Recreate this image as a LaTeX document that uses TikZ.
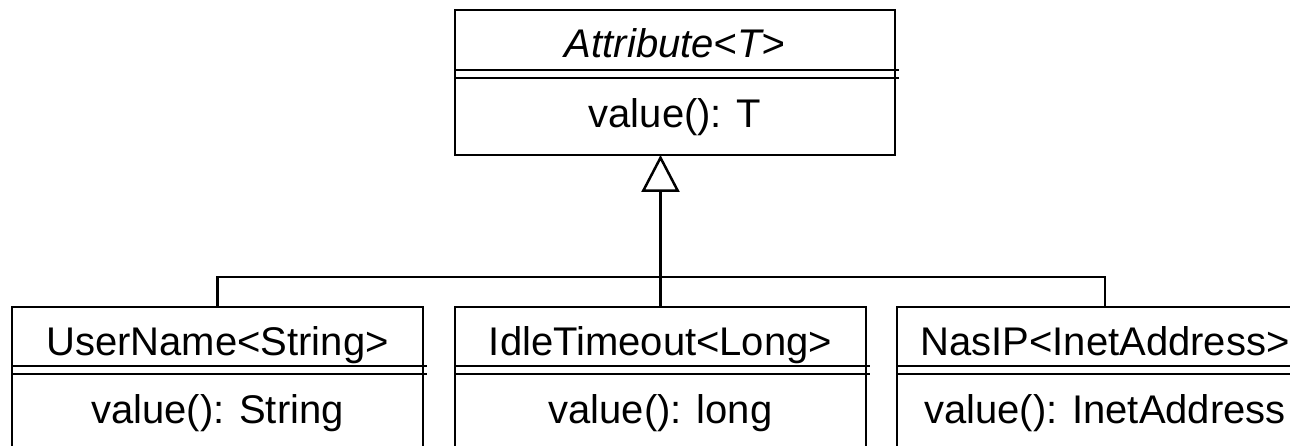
\documentclass[tikz,border=0pt]{standalone}
\usepackage{fontspec}
\setmainfont{Liberation Sans}
\usetikzlibrary{arrows.meta}
\tikzset{
  classbox/.style={draw, rectangle, line width=2.5pt, inner sep=0pt, outer sep=0pt},
  classtext/.style={anchor=base, inner sep=0pt, font=\fontsize{40}{48}\selectfont},
  sep/.style={line width=2.5pt},
  gen/.style={line width=2.5pt},
  genhead/.style={-{Triangle[open, length=37pt, width=38pt, line width=2.5pt]}}
}
\begin{document}
\begin{tikzpicture}[x=1pt, y=-1pt]
  \useasboundingbox (0,0) rectangle (1290,446);
  \clip (0,0) rectangle (1290,446);

  % superclass
  \node[classbox, minimum width=440pt, minimum height=145pt] (attr) at (675,82.5) {};
  \path (attr.north) ++(0,48) node[classtext] (attrname) {\itshape Attribute<T>};
  \path (attr.north) ++(0,118) node[classtext] (attrop) {value(): T};
  \draw[sep] (attr.north west) ++(0,60) -- ++(444,0);
  \draw[sep] (attr.north west) ++(0,68) -- ++(444,0);

  % subclasses
  \node[classbox, minimum width=411pt, minimum height=153pt] (user) at (217.5,383.5) {};
  \path (user.north) ++(0,48) node[classtext] (username) {UserName<String>};
  \path (user.north) ++(0,116) node[classtext] (userop) {value(): String};
  \draw[sep] (user.north west) ++(0,59) -- ++(415,0);
  \draw[sep] (user.north west) ++(0,67) -- ++(415,0);

  \node[classbox, minimum width=411pt, minimum height=153pt] (idle) at (660.5,383.5) {};
  \path (idle.north) ++(0,48) node[classtext] (idlename) {IdleTimeout<Long>};
  \path (idle.north) ++(0,116) node[classtext] (idleop) {value(): long};
  \draw[sep] (idle.north west) ++(0,59) -- ++(415,0);
  \draw[sep] (idle.north west) ++(0,67) -- ++(415,0);

  \node[classbox, minimum width=416pt, minimum height=153pt] (nas) at (1105,383.5) {};
  \path (nas.north) ++(0,48) node[classtext] (nasname) {NasIP<InetAddress>};
  \path (nas.north) ++(0,116) node[classtext] (nasop) {value(): InetAddress};
  \draw[sep] (nas.north west) ++(0,59) -- ++(420,0);
  \draw[sep] (nas.north west) ++(0,67) -- ++(420,0);

  % generalization
  \coordinate (bar) at (idle.north |- 0,277);
  \draw[gen] (user.north) |- (bar) -| (nas.north);
  \draw[gen, genhead] (idle.north) -- (idle.north |- attr.south);
\end{tikzpicture}
\end{document}
